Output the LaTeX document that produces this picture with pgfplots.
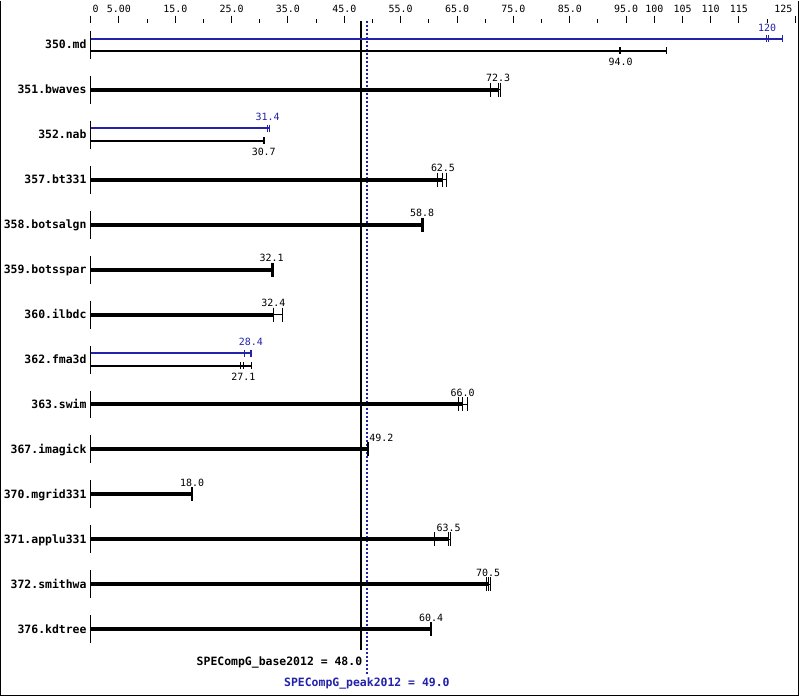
\documentclass[border=0pt]{standalone}
\usepackage{pgfplots}
\pgfplotsset{compat=1.18}
\usepackage{fontspec}
\setmainfont{DejaVu Sans Mono}
\setmonofont{DejaVu Sans Mono}
\definecolor{specblue}{RGB}{34,34,170}
\begin{document}
\begin{tikzpicture}
\begin{axis}[
  scale only axis, x=5.64bp, y=1bp, y dir=reverse,
  xmin=-16.05, xmax=125.62, ymin=22, ymax=696,
  clip=false, axis x line*=top, axis y line=none,
  x axis line style={draw=none},
  xtick={0,5,15,25,35,45,55,65,75,85,95,100,105,110,115,125},
  xticklabels={\makebox[0pt][l]{\hspace{2bp}0},5.00,15.0,25.0,35.0,45.0,55.0,65.0,75.0,85.0,95.0,100,105,110,115,\makebox[0pt][r]{125\hspace{3bp}}},
  minor xtick={10,20,30,40,50,60,70,80,90,120},
  tick align=outside, major tick length=7bp, minor tick length=3.5bp,
  tick style={black, line width=1bp},
  xticklabel style={font=\fontsize{10}{10}\selectfont, text=black},
  ytick=\empty,
  unbounded coords=jump,
]
% frame
\addplot[black, line width=1.5bp] coordinates {(-15.96,0) (-15.96,695.3) (125.53,695.3) (125.53,0)};
% base and peak reference lines
\addplot[black, line width=2bp] coordinates {(48,20) (48,650)};
\addplot[specblue, line width=1.5bp, dash pattern=on 2bp off 2bp] coordinates {(49,20) (49,676)};
% zero line segments
\addplot[black, line width=1bp] coordinates {
 (0,30)(0,58) (nan,nan) (0,75)(0,103) (nan,nan) (0,120)(0,148) (nan,nan)
 (0,165)(0,193) (nan,nan) (0,210)(0,238) (nan,nan) (0,255)(0,283) (nan,nan)
 (0,300)(0,328) (nan,nan) (0,345)(0,373) (nan,nan) (0,390)(0,418) (nan,nan)
 (0,435)(0,463) (nan,nan) (0,480)(0,508) (nan,nan) (0,525)(0,553) (nan,nan)
 (0,570)(0,598) (nan,nan) (0,615)(0,643)};
% thick base bars (single rows)
\addplot[black, line width=4bp] coordinates {
 (0,89)(72.3,89) (nan,nan) (0,179)(62.5,179) (nan,nan) (0,224)(58.8,224) (nan,nan)
 (0,269)(32.1,269) (nan,nan) (0,314)(32.4,314) (nan,nan) (0,404)(66.0,404) (nan,nan)
 (0,449)(49.2,449) (nan,nan) (0,494)(18.0,494) (nan,nan) (0,539)(63.5,539) (nan,nan)
 (0,584)(70.5,584) (nan,nan) (0,629)(60.4,629)};
% thin run range lines (single rows)
\addplot[black, line width=1bp] coordinates {
 (70.9,89)(72.7,89) (nan,nan) (61.5,179)(63.1,179) (nan,nan) (58.6,224)(59.0,224) (nan,nan)
 (32.1,269)(32.5,269) (nan,nan) (32.4,314)(34.0,314) (nan,nan) (65.2,404)(66.8,404) (nan,nan)
 (49.1,449)(49.3,449) (nan,nan) (17.9,494)(18.1,494) (nan,nan) (61.0,539)(63.9,539) (nan,nan)
 (70.3,584)(70.9,584) (nan,nan) (60.3,629)(60.5,629)};
% run ticks (single rows)
\addplot[black, only marks, mark=|, mark size=7bp, line width=1bp] coordinates {
 (70.9,89)(72.3,89)(72.7,89) (61.5,179)(62.5,179)(63.1,179)
 (58.6,224)(58.8,224)(59.0,224) (32.1,269)(32.2,269)(32.5,269)
 (32.4,314)(32.5,314)(34.0,314) (65.2,404)(66.0,404)(66.8,404)
 (49.1,449)(49.2,449)(49.3,449) (17.9,494)(18.0,494)(18.1,494)
 (61.0,539)(63.5,539)(63.9,539) (70.3,584)(70.5,584)(70.9,584)
 (60.3,629)(60.4,629)(60.5,629)};
% double rows: peak (blue)
\addplot[specblue, line width=2bp] coordinates {
 (0,38)(122.8,38) (nan,nan) (0,127.5)(31.7,127.5) (nan,nan) (0,352.5)(28.5,352.5)};
\addplot[specblue, only marks, mark=|, mark size=3.5bp, line width=1bp] coordinates {
 (119.9,38)(120.2,38)(122.8,38) (31.4,127.5)(31.4,127.5)(31.7,127.5)
 (27.3,352.5)(28.4,352.5)(28.5,352.5)};
% double rows: base (black)
\addplot[black, line width=2bp] coordinates {
 (0,50)(102.1,50) (nan,nan) (0,140)(30.9,140) (nan,nan) (0,365)(28.6,365)};
\addplot[black, only marks, mark=|, mark size=3.5bp, line width=1bp] coordinates {
 (93.8,50)(94.0,50)(102.1,50) (30.6,140)(30.7,140)(30.9,140)
 (26.6,365)(27.1,365)(28.6,365)};
% benchmark names
\begin{scope}[every node/.style={anchor=base east, font=\bfseries\fontsize{11.5}{12}\selectfont, inner sep=0pt}]
\node at (-0.71,48) {350.md};
\node at (-0.71,93) {351.bwaves};
\node at (-0.71,138) {352.nab};
\node at (-0.71,183) {357.bt331};
\node at (-0.71,228) {358.botsalgn};
\node at (-0.71,273) {359.botsspar};
\node at (-0.71,318) {360.ilbdc};
\node at (-0.71,363) {362.fma3d};
\node at (-0.71,408) {363.swim};
\node at (-0.71,453) {367.imagick};
\node at (-0.71,498) {370.mgrid331};
\node at (-0.71,543) {371.applu331};
\node at (-0.71,588) {372.smithwa};
\node at (-0.71,633) {376.kdtree};
\end{scope}
% value labels
\begin{scope}[every node/.style={anchor=base, font=\fontsize{10}{10}\selectfont, inner sep=0pt}]
\node at (72.3,81) {72.3};
\node at (62.5,171) {62.5};
\node at (58.8,216) {58.8};
\node at (32.1,261) {32.1};
\node at (32.4,306) {32.4};
\node at (66.0,396) {66.0};
\node[anchor=base west] at (49.4,441) {49.2};
\node at (18.0,486) {18.0};
\node at (63.5,531) {63.5};
\node at (70.5,576) {70.5};
\node at (60.4,621) {60.4};
\node[text=specblue] at (120.0,30.5) {120};
\node at (94.0,64.5) {94.0};
\node[text=specblue] at (31.4,120) {31.4};
\node at (30.7,154.5) {30.7};
\node[text=specblue] at (28.4,345) {28.4};
\node at (27.1,379.5) {27.1};
\end{scope}
% summary labels
\node[anchor=base east, inner sep=0pt, font=\bfseries\fontsize{11.5}{12}\selectfont] at (48.2,665) {SPECompG\_base2012 = 48.0};
\node[anchor=base, inner sep=0pt, text=specblue, font=\bfseries\fontsize{11.5}{12}\selectfont] at (49.0,686) {SPECompG\_peak2012 = 49.0};
\end{axis}
\end{tikzpicture}
\end{document}
